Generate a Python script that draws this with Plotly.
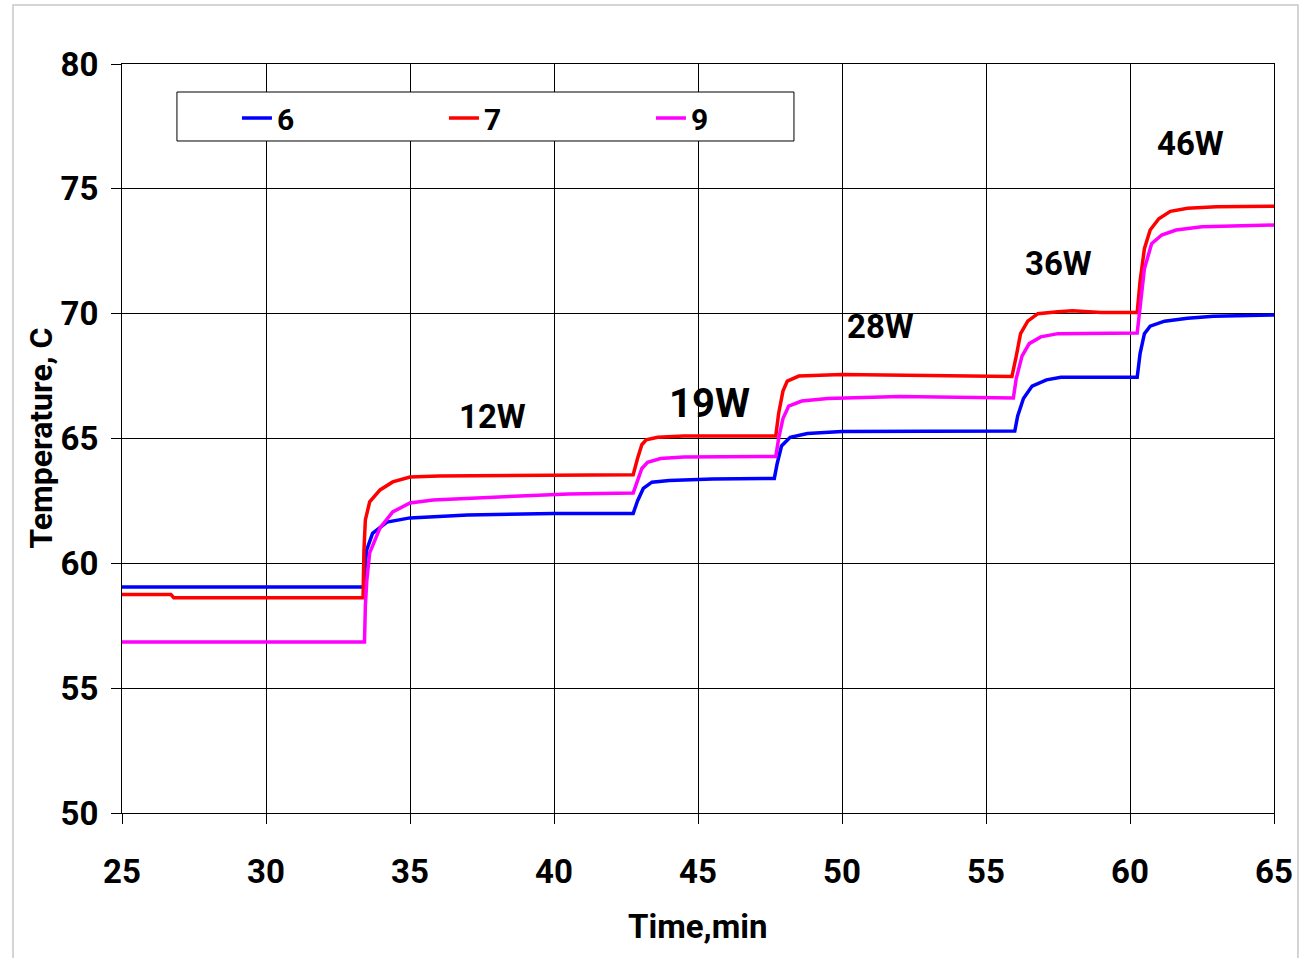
import plotly.graph_objects as go

# ---- data ----
t6 = [25, 33.4, 33.45, 33.5, 33.7, 34.2, 35.0, 37.0, 40.0, 42.75, 42.9, 43.1, 43.4, 44.0, 45.5, 47.65,
      47.75, 47.9, 48.2, 48.8, 50.0, 56.0, 56.1, 56.3, 56.6, 57.1, 57.6, 60.25, 60.35, 60.5, 60.7, 61.2, 62.0, 62.9, 65.0]
v6 = [59.05, 59.05, 60.0, 60.55, 61.2, 61.65, 61.82, 61.94, 62.0, 62.0, 62.5, 63.0, 63.25, 63.32, 63.38, 63.4,
      64.0, 64.7, 65.05, 65.2, 65.28, 65.3, 65.9, 66.6, 67.1, 67.35, 67.45, 67.45, 68.4, 69.2, 69.5, 69.7, 69.82, 69.9, 69.95]

t7 = [25, 26.7, 26.8, 33.37, 33.4, 33.45, 33.6, 33.96, 34.4, 35.0, 36.0, 40.0, 42.75, 42.9, 43.05, 43.2, 43.6, 44.5, 47.7,
      47.8, 47.95, 48.1, 48.5, 50.0, 53.0, 55.9, 56.05, 56.2, 56.45, 56.8, 57.5, 58.0, 59.0, 60.25, 60.35, 60.5, 60.7,
      61.0, 61.4, 62.0, 63.0, 65.0]
v7 = [58.75, 58.75, 58.62, 58.62, 60.5, 61.74, 62.46, 62.94, 63.26, 63.46, 63.5, 63.55, 63.55, 64.2, 64.75, 64.95, 65.05, 65.1, 65.1,
      66.0, 66.9, 67.3, 67.5, 67.56, 67.52, 67.48, 68.3, 69.2, 69.7, 70.0, 70.08, 70.12, 70.05, 70.05, 71.3, 72.6, 73.35,
      73.8, 74.1, 74.22, 74.28, 74.3]

t9 = [25, 33.42, 33.45, 33.5, 33.6, 33.96, 34.4, 35.0, 35.8, 38.1, 40.5, 42.75, 42.9, 43.05, 43.25, 43.7, 44.5, 47.7,
      47.8, 47.95, 48.15, 48.6, 49.5, 52.0, 55.95, 56.05, 56.25, 56.5, 56.9, 57.5, 60.25, 60.35, 60.5, 60.75, 61.1,
      61.6, 62.5, 65.0]
v9 = [56.85, 56.85, 58.3, 59.3, 60.42, 61.42, 62.06, 62.42, 62.54, 62.66, 62.78, 62.82, 63.3, 63.8, 64.05, 64.2, 64.26, 64.28,
      65.0, 65.8, 66.3, 66.5, 66.6, 66.68, 66.62, 67.4, 68.3, 68.8, 69.07, 69.2, 69.23, 70.4, 71.8, 72.8, 73.15,
      73.35, 73.48, 73.55]

power_labels = ["12W", "19W", "28W", "36W", "46W"]
power_x = [37.85, 45.4, 51.35, 57.5, 62.1]
power_y = [65.9, 66.4, 69.5, 72.0, 76.8]
power_size = [33, 40, 33, 33, 33]

x_ticks = [25, 30, 35, 40, 45, 50, 55, 60, 65]
y_ticks = [50, 55, 60, 65, 70, 75, 80]

FONT = "Roboto, Liberation Sans, sans-serif"

fig = go.Figure()
for name, tx, vy, col in [("6", t6, v6, "#0000ff"), ("7", t7, v7, "#ff0000"), ("9", t9, v9, "#ff00ff")]:
    fig.add_trace(go.Scatter(x=tx, y=vy, mode="lines", name=name,
                             line=dict(color=col, width=3.5)))

for lab, px, py, fs in zip(power_labels, power_x, power_y, power_size):
    fig.add_annotation(x=px, y=py, text=lab, showarrow=False,
                       font=dict(family=FONT, size=fs, color="black", weight="bold"))

axis_common = dict(showgrid=True, gridcolor="black", gridwidth=1, showline=True, linecolor="black",
                   linewidth=1, mirror=True, ticks="outside", ticklen=10, tickcolor="black",
                   tickfont=dict(family=FONT, size=33, color="black", weight="bold"), zeroline=False)

fig.update_xaxes(range=[25, 65], tickvals=x_ticks, ticktext=[str(v) for v in x_ticks],
                 ticklabelstandoff=19, **axis_common)
fig.update_yaxes(range=[50, 80], tickvals=y_ticks, ticktext=[str(v) for v in y_ticks],
                 ticklabelstandoff=6, **axis_common)

fig.add_annotation(xref="paper", yref="paper", x=0.5, y=-0.152, text="Time,min", showarrow=False,
                   font=dict(family=FONT, size=33, color="black", weight="bold"), yanchor="middle")
fig.add_annotation(xref="paper", yref="paper", x=-0.071, y=0.5, text="Temperature, C", showarrow=False,
                   textangle=-90, font=dict(family=FONT, size=32, color="black", weight="bold"), xanchor="center")

# outer frame
fig.add_shape(type="rect", xref="paper", yref="paper", x0=-0.0946, x1=1.0208, y0=-0.2, y1=1.0788,
              line=dict(color="#c8c8c8", width=1.5), layer="below")
# legend frame
fig.add_shape(type="rect", xref="paper", yref="paper", x0=0.0477, x1=0.5833, y0=0.8972, y1=0.9626,
              line=dict(color="black", width=1), fillcolor="white", layer="above")

fig.update_layout(
    width=1305, height=958,
    margin=dict(l=122, r=31, t=64, b=145),
    plot_bgcolor="white", paper_bgcolor="white",
    showlegend=True,
    legend=dict(orientation="h", x=0.0477, y=0.9626, xanchor="left", yanchor="top",
                bgcolor="rgba(0,0,0,0)", borderwidth=0,
                entrywidth=102, indentation=60,
                font=dict(family=FONT, size=30, color="black", weight="bold")),
)
fig.write_html("out.html")
